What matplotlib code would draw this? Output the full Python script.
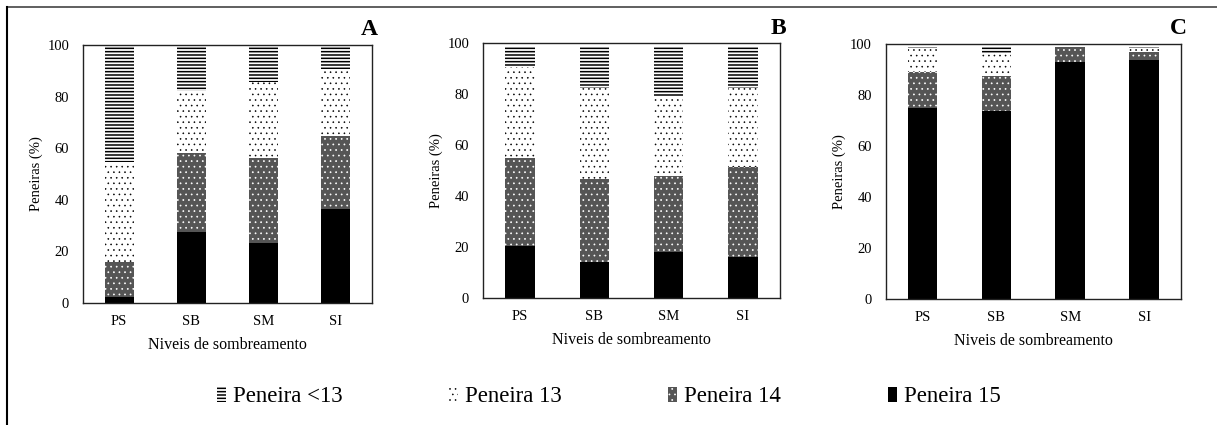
import matplotlib
matplotlib.use('Agg')
import matplotlib.pyplot as plt
import numpy as np
from matplotlib.patches import Patch
from matplotlib.lines import Line2D

# niveis de sombreamento
niveis = ['PS', 'SB', 'SM', 'SI']

# porcentagem de graos em cada peneira (A, B, C)
p15_A = [2.2, 27.4, 23.1, 36.4]
p14_A = [13.7, 30.9, 33.0, 28.3]
p13_A = [38.6, 24.0, 29.7, 25.9]
pm13_A = [45.5, 17.7, 14.2, 9.4]

p15_B = [20.3, 14.2, 17.8, 16.0]
p14_B = [34.6, 32.5, 30.2, 35.3]
p13_B = [35.9, 35.6, 30.8, 31.0]
pm13_B = [8.2, 16.7, 20.2, 16.7]

p15_C = [74.9, 73.6, 92.9, 93.6]
p14_C = [14.1, 13.9, 5.8, 3.3]
p13_C = [9.2, 8.3, 0.0, 1.3]
pm13_C = [0.8, 3.4, 0.0, 0.8]

plt.rcParams['font.family'] = ['Liberation Serif', 'DejaVu Serif']
plt.rcParams['hatch.linewidth'] = 1.0

fig = plt.figure(figsize=(12.17, 4.25), dpi=100)

posicoes = [
    [0.0682, 0.2871, 0.2375, 0.607],
    [0.3969, 0.2995, 0.2440, 0.5986],
    [0.7278, 0.2965, 0.2426, 0.6007],
]
dados = [
    ('A', p15_A, p14_A, p13_A, pm13_A),
    ('B', p15_B, p14_B, p13_B, pm13_B),
    ('C', p15_C, p14_C, p13_C, pm13_C),
]

# estilos das peneiras: cor, cor da hachura, hachura, espessura da hachura
est15 = dict(color='black', edgecolor='black', hatch=None)
est14 = dict(color='#555555', edgecolor='white', hatch='...')
est13 = dict(color='white', edgecolor='black', hatch='...')
estm13 = dict(color='white', edgecolor='black', hatch='-----')
lw_hatch = {'p15': 1.0, 'p14': 0.5, 'p13': 0.4, 'pm13': 1.1}


def hatch_lw(barras, lw):
    for b in barras:
        if hasattr(b, 'set_hatch_linewidth'):
            b.set_hatch_linewidth(lw)


x = np.arange(len(niveis))
w = 0.4

for pos, (letra, a15, a14, a13, am13) in zip(posicoes, dados):
    ax = fig.add_axes(pos)
    a15 = np.array(a15)
    a14 = np.array(a14)
    a13 = np.array(a13)
    am13 = np.array(am13)

    ax.bar(x, a15, w, linewidth=0, **est15)
    b = ax.bar(x, a14, w, bottom=a15, linewidth=0, **est14)
    hatch_lw(b, lw_hatch['p14'])
    b = ax.bar(x, a13, w, bottom=a15 + a14, linewidth=0, **est13)
    hatch_lw(b, lw_hatch['p13'])
    b = ax.bar(x, am13, w, bottom=a15 + a14 + a13, linewidth=0, **estm13)
    hatch_lw(b, lw_hatch['pm13'])

    ax.set_xlim(-0.5, 3.5)
    ax.set_ylim(0, 100)
    ax.set_yticks([0, 20, 40, 60, 80, 100])
    ax.set_xticks(x)
    ax.set_xticklabels(niveis)
    ax.tick_params(length=0, labelsize=10.5, pad=9)
    ax.tick_params(axis='y', pad=10)
    for s in ax.spines.values():
        s.set_linewidth(1.0)
        s.set_color('#222222')
    ax.set_ylabel('Peneiras (%)', fontsize=10.5, labelpad=3)
    ax.set_xlabel('Niveis de sombreamento', fontsize=11.5, labelpad=6)
    ax.text(1.02, 1.06, letra, transform=ax.transAxes, fontsize=17,
            fontweight='bold', ha='right', va='center')

# legenda embaixo
handles = [
    Patch(facecolor='white', edgecolor='black', hatch='-----', linewidth=0, label='Peneira <13'),
    Patch(facecolor='white', edgecolor='black', hatch='...', linewidth=0, label='Peneira 13'),
    Patch(facecolor='#555555', edgecolor='white', hatch='...', linewidth=0, label='Peneira 14'),
    Patch(facecolor='black', edgecolor='black', linewidth=0, label='Peneira 15'),
]
leg = fig.legend(handles=handles, loc='center', bbox_to_anchor=(0.5, 0.066), ncol=4,
                 frameon=False, fontsize=16.5, handlelength=0.4, handleheight=0.6,
                 handletextpad=0.3, columnspacing=4.65)
for h, lw in zip(leg.legend_handles, [1.1, 0.4, 0.5, 1.0]):
    hatch_lw([h], lw)

# moldura (topo e esquerda)
fig.add_artist(Line2D([7 / 1217, 1], [1 - 7 / 425, 1 - 7 / 425], color='#444444', lw=1.2))
fig.add_artist(Line2D([7 / 1217, 7 / 1217], [0, 1 - 7 / 425], color='black', lw=1.5))

fig.savefig('out.png', dpi=100)
